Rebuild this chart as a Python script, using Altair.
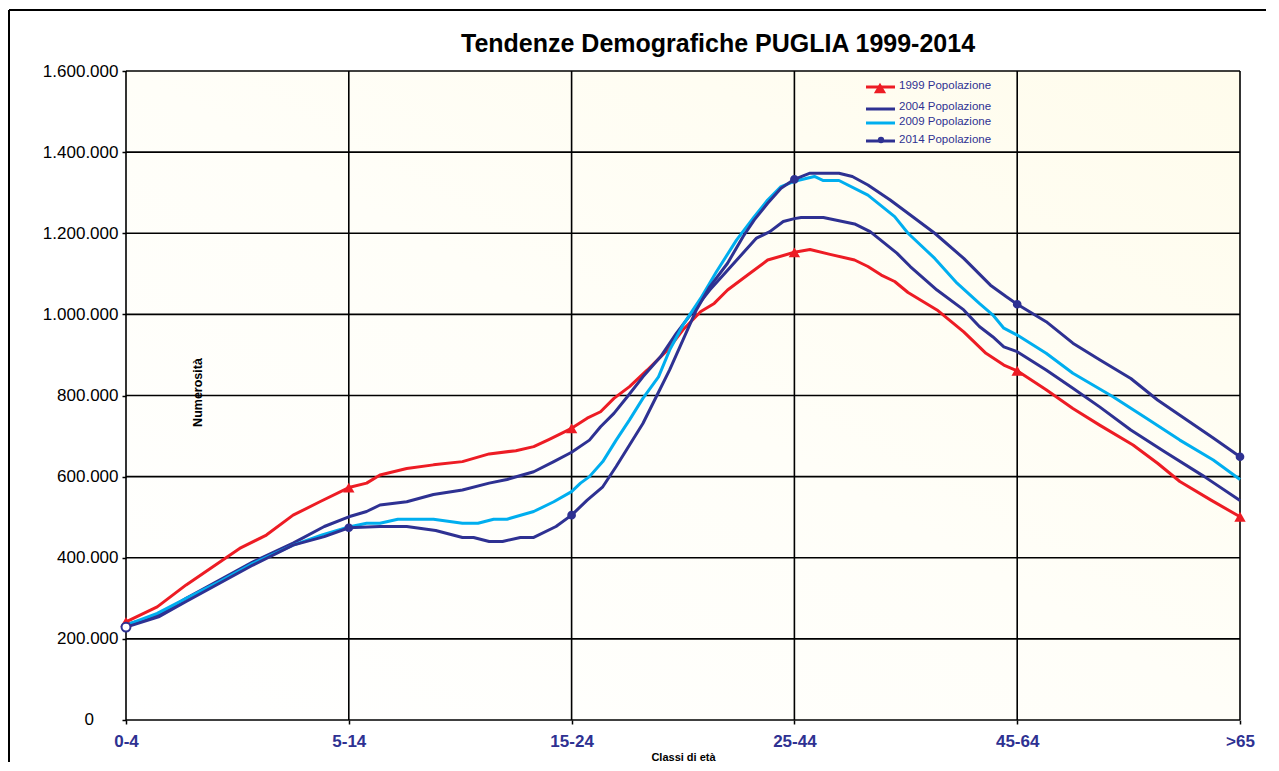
import json
import altair as alt
import pandas as pd

# ---------------- data ----------------
chart_title = "Tendenze Demografiche PUGLIA 1999-2014"
categories = ["0-4", "5-14", "15-24", "25-44", "45-64", ">65"]
series_names = ["1999 Popolazione", "2004 Popolazione", "2009 Popolazione", "2014 Popolazione"]
series_colors = ["#ED1C24", "#2E3192", "#00AEEF", "#2E3192"]
y_ticks = [0, 200000, 400000, 600000, 800000, 1000000, 1200000, 1400000, 1600000]

# position along the category axis (0 = "0-4", 5 = ">65"), values in thousands
pos_1999 = [0, 0.14, 0.27, 0.39, 0.51, 0.63, 0.75, 0.87, 1, 1.08, 1.14, 1.26, 1.38, 1.51, 1.63, 1.75, 1.83, 1.90,
            2, 2.07, 2.13, 2.19, 2.26, 2.34, 2.43, 2.50, 2.58, 2.64, 2.70, 2.79, 2.88, 3, 3.07, 3.16, 3.27, 3.33,
            3.39, 3.45, 3.51, 3.64, 3.76, 3.86, 3.94, 4, 4.13, 4.25, 4.37, 4.52, 4.63, 4.73, 4.87, 5]
val_1999 = [242, 279, 333, 378, 423, 456, 505, 538, 573, 584, 604, 620, 629, 637, 656, 664, 674, 692,
            719, 744, 760, 793, 822, 863, 912, 962, 1007, 1027, 1060, 1097, 1134, 1153, 1160, 1148, 1134, 1118,
            1097, 1081, 1054, 1011, 957, 904, 875, 861, 814, 768, 727, 678, 633, 588, 542, 501]

pos_2004 = [0, 0.15, 0.27, 0.42, 0.57, 0.75, 0.89, 1, 1.08, 1.14, 1.26, 1.38, 1.51, 1.63, 1.71, 1.83, 1.92,
            2, 2.08, 2.13, 2.19, 2.25, 2.32, 2.40, 2.47, 2.55, 2.62, 2.70, 2.83, 2.89, 2.95, 3, 3.03, 3.13, 3.27,
            3.34, 3.46, 3.52, 3.64, 3.76, 3.83, 3.89, 3.94, 4, 4.13, 4.25, 4.37, 4.51, 4.66, 4.84, 5]
val_2004 = [235, 259, 300, 345, 390, 436, 477, 501, 514, 530, 538, 556, 567, 584, 593, 612, 637,
            660, 690, 723, 756, 797, 846, 896, 953, 1011, 1060, 1109, 1188, 1204, 1229, 1236, 1239, 1239, 1223,
            1204, 1151, 1118, 1060, 1011, 970, 945, 920, 908, 863, 818, 772, 715, 662, 600, 541]

pos_2009 = [0, 0.14, 0.27, 0.42, 0.57, 0.75, 0.88, 1, 1.08, 1.14, 1.22, 1.38, 1.51, 1.58, 1.65, 1.71, 1.83, 1.92,
            2, 2.04, 2.08, 2.14, 2.20, 2.26, 2.32, 2.39, 2.44, 2.50, 2.58, 2.65, 2.74, 2.82, 2.88, 2.94, 3, 3.09,
            3.13, 3.20, 3.33, 3.45, 3.51, 3.63, 3.73, 3.83, 3.89, 3.94, 4, 4.13, 4.25, 4.43, 4.58, 4.73, 4.88, 5]
val_2009 = [234, 263, 300, 341, 386, 431, 456, 476, 485, 485, 495, 495, 485, 485, 495, 495, 514, 538,
            563, 584, 600, 637, 690, 740, 793, 846, 912, 974, 1040, 1105, 1183, 1241, 1282, 1315, 1328, 1340,
            1330, 1330, 1294, 1241, 1200, 1138, 1077, 1027, 999, 966, 949, 904, 855, 797, 744, 690, 641, 593]

pos_2014 = [0, 0.15, 0.27, 0.42, 0.57, 0.75, 0.89, 1, 1.14, 1.26, 1.39, 1.51, 1.56, 1.63, 1.69, 1.77, 1.83, 1.93,
            2, 2.07, 2.14, 2.20, 2.26, 2.32, 2.38, 2.44, 2.50, 2.56, 2.62, 2.70, 2.77, 2.82, 2.88, 2.94, 3, 3.07,
            3.20, 3.26, 3.33, 3.43, 3.54, 3.63, 3.76, 3.88, 3.95, 4, 4.13, 4.25, 4.37, 4.51, 4.63, 4.75, 4.88, 5]
val_2014 = [229, 255, 292, 337, 382, 431, 452, 474, 477, 477, 467, 450, 450, 440, 440, 450, 450, 477,
            505, 542, 575, 625, 678, 731, 797, 863, 937, 1011, 1068, 1126, 1192, 1233, 1274, 1311, 1333, 1348,
            1348, 1340, 1319, 1282, 1237, 1200, 1138, 1072, 1044, 1025, 982, 929, 888, 842, 789, 744, 695, 649]

series_pos = [pos_1999, pos_2004, pos_2009, pos_2014]
series_val = [val_1999, val_2004, val_2009, val_2014]

rows = []
for name, ps, vs in zip(series_names, series_pos, series_val):
    for p, v in zip(ps, vs):
        rows.append({"series": name, "pos": p, "value": v * 1000})
df = pd.DataFrame(rows)

df_markers_1999 = df[(df.series == series_names[0]) & (df.pos % 1 == 0)]
df_markers_2014 = df[(df.series == series_names[3]) & (df.pos % 1 == 0)]
df_gx = pd.DataFrame({"pos": list(range(len(categories)))})
df_gy = pd.DataFrame({"value": y_ticks})
df_zero = pd.DataFrame({"value": [y_ticks[0]], "label": ["0"]})
one = pd.DataFrame({"k": [0]})

# ---------------- layout ----------------
W, H = 1114, 649
FONT = "Liberation Sans"
DARK = "#2E3192"

x_axis = alt.Axis(
    values=list(range(len(categories))),
    labelExpr=json.dumps(categories) + "[datum.value]",
    labelFlush=False, labelColor=DARK, labelFont=FONT, labelFontSize=17,
    labelFontWeight="bold", labelPadding=9, tickSize=4, tickColor="black",
    tickWidth=1.5, domain=False, grid=False,
    title="Classi di età", titleFont=FONT, titleFontSize=11, titleFontWeight="bold",
    titleColor="black", titlePadding=2,
)
y_axis = alt.Axis(
    values=y_ticks,
    labelExpr="datum.value == 0 ? '' : replace(format(datum.value, ',d'), regexp(',', 'g'), '.')",
    labelColor="black", labelFont=FONT, labelFontSize=17, labelPadding=4,
    tickSize=4, tickColor="black", tickWidth=1.5, domain=False, grid=False,
    title="Numerosità", titleFont=FONT, titleFontSize=12.5, titleFontWeight="bold",
    titleColor="black", titleX=71, titleY=321, titleAngle=270, titleAlign="center",
    titleBaseline="middle", zindex=1,
)
x_scale = alt.Scale(domain=[0, 5], nice=False, zero=False)
y_scale = alt.Scale(domain=[0, 1600000], nice=False)
X = alt.X("pos:Q", scale=x_scale, axis=x_axis)
Y = alt.Y("value:Q", scale=y_scale, axis=y_axis)

bg = alt.Chart(one).mark_rect(
    fill=alt.Gradient(
        gradient="linear",
        stops=[alt.GradientStop(color="#ffffff", offset=0),
               alt.GradientStop(color="#fffef8", offset=0.5),
               alt.GradientStop(color="#fffcec", offset=1)],
        x1=0, y1=1, x2=1, y2=0,
    )
).encode(x=alt.value(0), x2=alt.value(W), y=alt.value(0), y2=alt.value(H))

grid_x = alt.Chart(df_gx).mark_rule(color="black", strokeWidth=1.6).encode(x=X)
grid_y = alt.Chart(df_gy).mark_rule(color="black", strokeWidth=1.6).encode(y=Y)

# the "0" tick label sits further left than the others in the reference
zero_label = alt.Chart(df_zero).mark_text(
    font=FONT, fontSize=17, color="black", align="right", baseline="middle", clip=False
).encode(x=alt.value(-32), y=Y, text="label:N")

lines = alt.Chart(df).mark_line(strokeWidth=3, strokeJoin="round").encode(
    x=X, y=Y,
    color=alt.Color("series:N", scale=alt.Scale(domain=series_names, range=series_colors), legend=None),
    detail="series:N",
)

m1999 = alt.Chart(df_markers_1999).mark_point(
    shape="triangle-up", filled=True, size=130, color=series_colors[0], opacity=1
).encode(x=X, y=Y)

m2014 = alt.Chart(df_markers_2014).mark_point(
    shape="circle", filled=True, opacity=1, stroke=DARK, strokeWidth=2
).encode(
    x=X, y=Y,
    fill=alt.condition("datum.pos == 0", alt.value("white"), alt.value(DARK)),
    size=alt.condition("datum.pos == 0", alt.value(80), alt.value(45)),
)

# legend (inside plot, top right)
legend_line_y = [16, 38, 52, 70]
legend_text_y = [15, 36, 51, 69]
legend_layers = []
for i, (name, col) in enumerate(zip(series_names, series_colors)):
    legend_layers.append(
        alt.Chart(one).mark_rule(strokeWidth=3, color=col).encode(
            x=alt.value(740), x2=alt.value(769), y=alt.value(legend_line_y[i]))
    )
    legend_layers.append(
        alt.Chart(one).mark_text(text=name, align="left", baseline="middle", font=FONT,
                                 fontSize=11.5, color=DARK).encode(
            x=alt.value(773), y=alt.value(legend_text_y[i]))
    )
legend_layers.append(
    alt.Chart(one).mark_point(shape="triangle-up", filled=True, size=150, color=series_colors[0],
                              opacity=1).encode(x=alt.value(754), y=alt.value(17))
)
legend_layers.append(
    alt.Chart(one).mark_point(shape="circle", filled=True, size=40, color=DARK,
                              opacity=1).encode(x=alt.value(755), y=alt.value(69))
)

# title as text above the plot
title = alt.Chart(one).mark_text(
    text=chart_title, font=FONT, fontSize=25, fontWeight="bold", color="black",
    align="center", baseline="alphabetic"
).encode(x=alt.value(W / 2 + 35), y=alt.value(-19))

# outer frame (top and left edges visible in the reference)
frame_top = alt.Chart(one).mark_rule(color="black", strokeWidth=2).encode(
    x=alt.value(-117), x2=alt.value(W + 40), y=alt.value(-61))
frame_left = alt.Chart(one).mark_rule(color="black", strokeWidth=2).encode(
    x=alt.value(-117), y=alt.value(-61), y2=alt.value(H + 45))

chart = alt.layer(bg, grid_x, grid_y, lines, m1999, m2014, *legend_layers, title,
                  zero_label, frame_top, frame_left).properties(
    width=W, height=H,
    padding={"left": 118, "top": 63, "right": 26, "bottom": 42},
    autosize=alt.AutoSizeParams(type="none"),
    background="white",
).configure_view(stroke=None)

chart.save("out.html", embed_options={"renderer": "svg", "actions": False})
